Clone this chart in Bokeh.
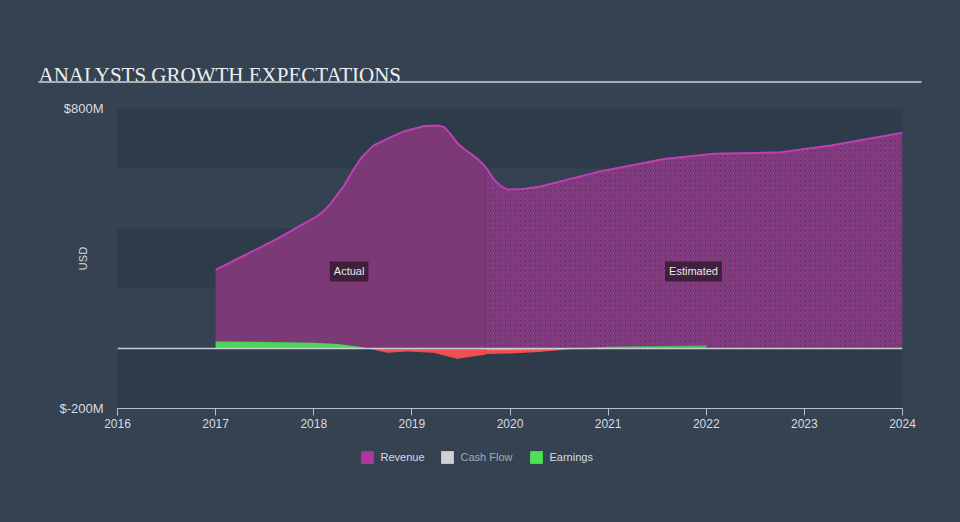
from bokeh.plotting import figure
from bokeh.layouts import column
from bokeh.models import (BoxAnnotation, Span, Label, Legend, LegendItem,
                          FixedTicker, Range1d)
from bokeh.embed import file_html
from bokeh.resources import INLINE

# ---------------- data ----------------
title_text = "ANALYSTS GROWTH EXPECTATIONS"
x_ticks = [2016, 2017, 2018, 2019, 2020, 2021, 2022, 2023, 2024]
x_tick_labels = ["2016", "2017", "2018", "2019", "2020", "2021", "2022", "2023", "2024"]
y_ticks = [-200, 800]
y_tick_labels = ["$-200M", "$800M"]
legend_labels = ["Revenue", "Cash Flow", "Earnings"]

# Revenue (USD M)
rev_actual_t = [2017.0, 2017.29, 2017.63, 2017.9, 2018.03, 2018.1, 2018.17, 2018.31, 2018.41,
                2018.49, 2018.61, 2018.78, 2018.92, 2019.12, 2019.27, 2019.33, 2019.39,
                2019.46, 2019.53, 2019.67, 2019.75]
rev_actual_v = [262, 310, 366, 416, 440, 458, 482, 543, 599,
                638, 677, 704, 724, 741, 743, 738, 716,
                686, 666, 632, 606]
rev_est_t = [2019.75, 2019.83, 2019.9, 2019.97, 2020.14, 2020.31, 2020.89, 2021.57,
             2022.08, 2022.76, 2023.27, 2024.0]
rev_est_v = [606, 566, 543, 530, 532, 540, 588, 632, 649, 654, 677, 719]

# Earnings (USD M)
earn_actual_t = [2017.0, 2017.5, 2018.0, 2018.25, 2018.5, 2018.55, 2018.75, 2018.95,
                 2019.22, 2019.46, 2019.75]
earn_actual_v = [23, 22, 19, 15, 4, 0, -14, -10, -14, -34, -21]
earn_est_t = [2019.75, 2020.0, 2020.3, 2020.69, 2021.0, 2021.5, 2022.0]
earn_est_v = [-18, -17, -12, 0, 6, 8, 10]

# Cash flow (USD M)
cash_est_t = [2019.75, 2020.0, 2020.69]
cash_est_v = [-4, -4, -2]

# ---------------- style ----------------
BG = "#344252"
BAND = "#2e3b4a"
REV_FILL = "#7b3a76"
REV_LINE = "#c13fb5"
GREEN = "#4cd45a"
RED = "#ef5050"
CASH = "#d0d0d0"
TXT = "#d8dce0"
FONT = "Liberation Sans"

# ---------------- header ----------------
head = figure(width=960, height=100, x_range=Range1d(0, 960), y_range=Range1d(100, 0),
              output_backend="svg", toolbar_location=None, min_border=0, frame_align=False,
              x_axis_type=None, y_axis_type=None,
              background_fill_color=BG, border_fill_color=BG, outline_line_color=None)
head.grid.visible = False
head.add_layout(Label(x=38, y=74, text=title_text, text_font="Liberation Serif",
                      text_font_size="21px", text_color="#eceef0",
                      text_baseline="alphabetic"))
head.add_layout(BoxAnnotation(left=38, right=921, top=80.5, bottom=82.5,
                              fill_color="#a9afb5", fill_alpha=1, line_color=None))

# ---------------- main chart ----------------
p = figure(width=960, height=340, x_range=Range1d(2016, 2024), y_range=Range1d(-200, 800),
           output_backend="svg", toolbar_location=None, frame_align=False,
           min_border_left=117, min_border_right=58, min_border_top=8, min_border_bottom=32,
           background_fill_color=BG, border_fill_color=BG, outline_line_color=None)
p.grid.visible = False

for b, t in [(600, 800), (200, 400), (-200, 0)]:
    p.add_layout(BoxAnnotation(bottom=b, top=t, fill_color=BAND, fill_alpha=1,
                               line_color=None, level="underlay"))

# Revenue
p.varea(x=rev_actual_t, y1=0, y2=rev_actual_v, fill_color=REV_FILL)
p.varea(x=rev_est_t, y1=0, y2=rev_est_v, fill_color="#4a3459",
        hatch_pattern="/", hatch_color="#8e3c87", hatch_scale=5, hatch_weight=1.8)
p.line(x=rev_actual_t, y=rev_actual_v, line_color=REV_LINE, line_width=2)
p.line(x=rev_est_t, y=rev_est_v, line_color=REV_LINE, line_width=2)

# Earnings
p.varea(x=earn_actual_t, y1=0, y2=[max(v, 0) for v in earn_actual_v], fill_color=GREEN)
p.varea(x=earn_actual_t, y1=0, y2=[min(v, 0) for v in earn_actual_v], fill_color=RED)
p.varea(x=earn_est_t, y1=0, y2=[max(v, 0) for v in earn_est_v], fill_color=GREEN,
        hatch_pattern="/", hatch_color=BAND, hatch_alpha=0.35, hatch_scale=4)
p.varea(x=earn_est_t, y1=0, y2=[min(v, 0) for v in earn_est_v], fill_color=RED)

# Cash flow
p.varea(x=cash_est_t, y1=0, y2=cash_est_v, fill_color=CASH,
        hatch_pattern="/", hatch_color=BAND, hatch_alpha=0.5, hatch_scale=4)

p.add_layout(Span(location=0, dimension="width", line_color="#c9ced3", line_width=1.5))

# Axes
xa = p.xaxis[0]
xa.ticker = FixedTicker(ticks=x_ticks)
xa.major_label_overrides = {t: l for t, l in zip(x_ticks, x_tick_labels)}
xa.axis_line_color = "#b8bec4"
xa.major_tick_line_color = "#b8bec4"
xa.major_tick_in = 0
xa.major_tick_out = 7
xa.minor_tick_line_color = None
xa.major_label_text_font = FONT
xa.major_label_text_font_size = "12px"
xa.major_label_text_color = TXT
xa.major_label_standoff = 3

ya = p.yaxis[0]
ya.ticker = FixedTicker(ticks=y_ticks)
ya.major_label_overrides = {t: l for t, l in zip(y_ticks, y_tick_labels)}
ya.axis_line_color = None
ya.major_tick_line_color = None
ya.minor_tick_line_color = None
ya.major_tick_in = 0
ya.major_tick_out = 0
ya.major_label_standoff = 14
ya.major_label_text_font = FONT
ya.major_label_text_font_size = "13px"
ya.major_label_text_color = TXT
ya.axis_label = "USD"
ya.axis_label_text_font = FONT
ya.axis_label_text_font_size = "11px"
ya.axis_label_text_font_style = "normal"
ya.axis_label_text_color = TXT
ya.axis_label_standoff = -33

# Actual / Estimated tags
for lx, txt in [(2018.36, "Actual"), (2021.87, "Estimated")]:
    p.add_layout(Label(x=lx, y=257, text=txt, text_align="center", text_baseline="middle",
                       text_color="#e8e8e8", text_font=FONT, text_font_size="11px",
                       background_fill_color="#3a1d37", background_fill_alpha=0.9,
                       padding=4))

# ---------------- footer legend ----------------
foot = figure(width=960, height=82, x_range=Range1d(0, 960), y_range=Range1d(0, 82),
              output_backend="svg", toolbar_location=None, min_border=0, frame_align=False,
              x_axis_type=None, y_axis_type=None,
              background_fill_color=BG, border_fill_color=BG, outline_line_color=None)
foot.grid.visible = False
leg_colors = ["#b0359e", CASH, "#4fe055"]
leg_text_colors = [TXT, "#a4abb3", TXT]
leg_x = [358.5, 438.5, 527.5]
for lab, col, tcol, lx in zip(legend_labels, leg_colors, leg_text_colors, leg_x):
    # legend proxy (kept outside the visible range)
    r = foot.quad(left=[-30], right=[-20], top=[-20], bottom=[-30],
                  fill_color=col, line_color=None)
    foot.add_layout(Legend(items=[LegendItem(label=lab, renderers=[r])], location=(lx, 57.5),
                           orientation="horizontal", padding=0, margin=0, spacing=0,
                           glyph_width=16, glyph_height=16, label_height=16, label_standoff=6,
                           label_text_font=FONT, label_text_font_size="11px",
                           label_text_color=tcol, background_fill_alpha=0,
                           border_line_alpha=0))

layout = column(head, p, foot, spacing=0)
html = file_html(layout, INLINE)
html = html.replace("<head>", "<head><style>html,body{margin:0;background:%s;}</style>" % BG, 1)
open("out.html", "w").write(html)
